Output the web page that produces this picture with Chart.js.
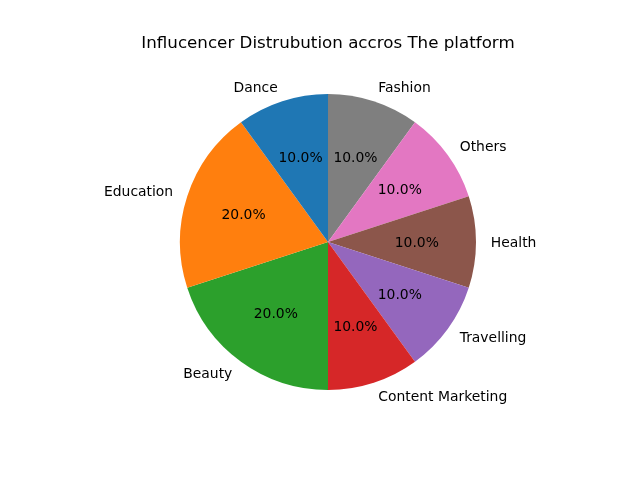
<!DOCTYPE html>
<html>
<head>
<meta charset="utf-8">
<script src="https://cdn.jsdelivr.net/npm/chart.js@4"></script>
<style>
  body { margin: 0; background: #fff; }
</style>
</head>
<body>
<canvas id="pie" width="640" height="480"></canvas>
<script>
// slices listed clockwise from the top (matplotlib draws them counterclockwise)
const categories = ['Fashion', 'Others', 'Health', 'Travelling', 'Content Marketing', 'Beauty', 'Education', 'Dance'];
const shares = [10, 10, 10, 10, 10, 20, 20, 10];
const colors = ['#7f7f7f', '#e377c2', '#8c564b', '#9467bd', '#d62728', '#2ca02c', '#ff7f0e', '#1f77b4'];
const chartTitle = 'Influcencer Distrubution accros The platform';

const labelPlugin = {
  id: 'pieLabels',
  afterDraw(chart) {
    const ctx = chart.ctx;
    const meta = chart.getDatasetMeta(0);
    const total = shares.reduce((a, b) => a + b, 0);
    ctx.save();
    ctx.fillStyle = '#000';
    ctx.textBaseline = 'middle';

    // title
    ctx.font = '16.7px "DejaVu Sans"';
    ctx.textAlign = 'center';
    ctx.fillText(chartTitle, 328, 44);

    ctx.font = '13.9px "DejaVu Sans"';
    meta.data.forEach((arc, i) => {
      const p = arc.getProps(['x', 'y', 'startAngle', 'endAngle', 'outerRadius'], true);
      const mid = (p.startAngle + p.endAngle) / 2;
      const c = Math.cos(mid), s = Math.sin(mid);
      // category label outside the pie
      ctx.textAlign = c > 0 ? 'left' : 'right';
      ctx.fillText(categories[i], p.x + c * p.outerRadius * 1.1, p.y + s * p.outerRadius * 1.1 + 1);
      // percentage inside
      ctx.textAlign = 'center';
      const pct = (shares[i] / total * 100).toFixed(1) + '%';
      ctx.fillText(pct, p.x + c * p.outerRadius * 0.6, p.y + s * p.outerRadius * 0.6 + 1);
    });
    ctx.restore();
  }
};

new Chart(document.getElementById('pie'), {
  type: 'pie',
  data: {
    labels: categories,
    datasets: [{
      data: shares,
      backgroundColor: colors,
      borderWidth: 0
    }]
  },
  options: {
    responsive: false,
    animation: false,
    events: [],
    layout: { padding: { left: 180, right: 164, top: 94, bottom: 90 } },
    plugins: {
      legend: { display: false },
      tooltip: { enabled: false },
      title: { display: false }
    }
  },
  plugins: [labelPlugin]
});
</script>
</body>
</html>
